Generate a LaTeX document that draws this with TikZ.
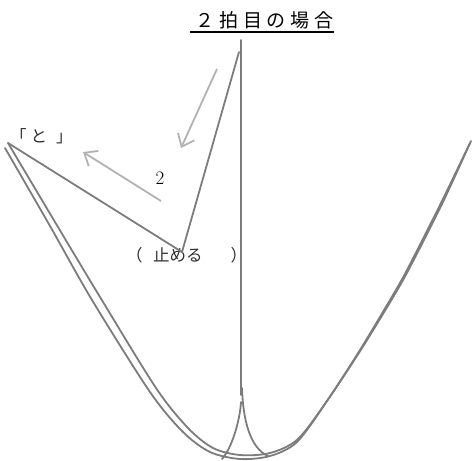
\documentclass[tikz,border=0pt]{standalone}
\usepackage{fontspec}
\newfontfamily\jpfont{Noto Sans CJK JP}
\newfontfamily\jptitle[LetterSpace=26]{Noto Sans CJK JP}
\usepackage{tikz}
\usetikzlibrary{arrows.meta}
\definecolor{strokegray}{RGB}{124,124,124}
\definecolor{hintgray}{RGB}{178,178,178}
\definecolor{inkgray}{RGB}{45,45,45}

\begin{document}
\begin{tikzpicture}[
  x=1pt,y=-1pt,
  beatline/.style={draw=strokegray,line width=1.8pt,line cap=round,line join=round},
  cuearrow/.style={draw=hintgray,line width=1.8pt,-{Straight Barb[length=11pt,width=18pt,line width=1.8pt]}},
  cuetext/.style={text=inkgray,inner sep=0pt,anchor=west,font=\jpfont\fontsize{16.5}{18}\selectfont}
]
  \useasboundingbox (0,0) rectangle (472,461);
  \node[anchor=south,inner sep=0pt,inner ysep=3pt,minimum width=141pt,
        font=\jptitle\fontsize{19}{21}\selectfont] (title) at (262,32) {\hspace{5pt}２拍目の場合};
  \draw[line width=1.5pt] (title.south west) -- (title.south east);

  \coordinate (top) at (241,40);
  \coordinate (foot) at (241,395);
  \coordinate (ictus) at (239,52);
  \coordinate (stop) at (182,252);
  \coordinate (to) at (8,143);
  \coordinate (tip) at (241,402);
  \coordinate (tipr) at (242,388);
  \coordinate (cuspl) at (222,459);
  \coordinate (cuspr) at (268,456);

  \node[cuetext] (tolabel) at (10,136) {「\hspace{4pt}と\hspace{9pt}」};
  \node[cuetext] (stoplabel) at (126,255) {（\hspace{10.5pt}止める\hspace{28pt}）};
  \node[text=black,inner sep=0pt,font=\fontsize{19}{21}\selectfont] (two) at (160,178) {2};

  \coordinate (a1s) at (217,69);
  \coordinate (a1e) at (181,148);
  \coordinate (a2s) at (161,201);
  \coordinate (a2e) at (83,152);
  \draw[cuearrow] (a1s) -- (a1e);
  \draw[cuearrow] (a2s) -- (a2e);

  \draw[beatline] (top) -- (foot);
  \draw[beatline] (ictus) -- (stop) -- (to);
  \draw[beatline] plot[smooth,tension=0.5] coordinates {(5,148) (50,226) (92,300) (150,392) (183,432) (210,452) (240,459) (270,456) (297,442) (327,401) (360,350) (390,300) (407,270) (440,205) (470,143)};
  \draw[beatline] plot[smooth,tension=0.5] coordinates {(8,143) (55,222) (100,297) (156,388) (188,428) (213,448) (240,455) (270,453) (298,439) (329,398) (362,348) (392,299) (409,269) (442,204) (471,141)};
  \draw[beatline] (tip) .. controls (240,420) and (232,448) .. (cuspl);
  \draw[beatline] (tipr) .. controls (243,420) and (250,448) .. (cuspr);
\end{tikzpicture}
\end{document}
